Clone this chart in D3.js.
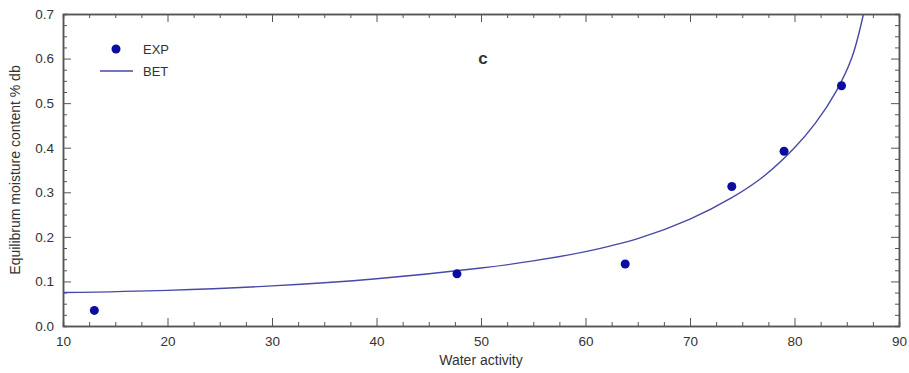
<!DOCTYPE html>
<meta charset="utf-8">
<head>
<style>
  body { margin: 0; background: #fff; }
  text { font-family: "Liberation Sans", Arial, sans-serif; }
</style>
</head>
<script src="https://d3js.org/d3.v7.min.js"></script>
<div id="chart"></div>
<script>

// measured points (EXP)
var expX = [13.0, 47.7, 63.8, 74.0, 79.0, 84.5];
var expY = [0.035, 0.117, 0.139, 0.313, 0.392, 0.539];

// BET fitted curve
var betX = [10, 20, 30, 40, 50, 55, 60, 65, 70, 74, 77, 80, 82, 84, 85.5, 86.6];
var betY = [0.075, 0.080, 0.090, 0.106, 0.130, 0.146, 0.167, 0.196, 0.240, 0.288, 0.335, 0.400, 0.455, 0.527, 0.603, 0.70];

var xTicks = [10, 20, 30, 40, 50, 60, 70, 80, 90];
var yTicks = [0.0, 0.1, 0.2, 0.3, 0.4, 0.5, 0.6, 0.7];

var W = 909, H = 373;
var margin = {top: 14, right: 10, bottom: 47, left: 63};
var width = W - margin.left - margin.right,
    height = H - margin.top - margin.bottom;

var svg = d3.select("#chart").append("svg")
    .attr("width", W).attr("height", H);
var g = svg.append("g")
    .attr("transform", "translate(" + margin.left + "," + margin.top + ")");

var x = d3.scaleLinear().domain([10, 90]).range([0, width]);
var y = d3.scaleLinear().domain([0, 0.7]).range([height, 0]);

var axisColor = "#555";

// minor ticks
var xMinor = d3.range(10, 90.01, 2.5).filter(function(v){ return v % 10 !== 0; });
var yMinor = d3.range(0, 0.7001, 0.025).filter(function(v){ return Math.abs(v*10 - Math.round(v*10)) > 1e-6; });

function drawAxes() {
  // bottom
  g.append("g").attr("transform", "translate(0," + height + ")")
    .call(d3.axisBottom(x).tickValues(xTicks).tickSizeInner(-8).tickSizeOuter(0).tickPadding(10).tickFormat(d3.format("d")))
    .call(styleAxis);
  g.append("g").attr("transform", "translate(0," + height + ")")
    .call(d3.axisBottom(x).tickValues(xMinor).tickSize(-4).tickFormat(""))
    .call(styleAxis);
  // top
  g.append("g")
    .call(d3.axisTop(x).tickValues(xTicks).tickSizeInner(-8).tickSizeOuter(0).tickFormat(""))
    .call(styleAxis);
  g.append("g")
    .call(d3.axisTop(x).tickValues(xMinor).tickSize(-4).tickFormat(""))
    .call(styleAxis);
  // left
  g.append("g")
    .call(d3.axisLeft(y).tickValues(yTicks).tickSizeInner(-8).tickSizeOuter(0).tickPadding(9).tickFormat(d3.format(".1f")))
    .call(styleAxis);
  g.append("g")
    .call(d3.axisLeft(y).tickValues(yMinor).tickSize(-4).tickFormat(""))
    .call(styleAxis);
  // right
  g.append("g").attr("transform", "translate(" + width + ",0)")
    .call(d3.axisRight(y).tickValues(yTicks).tickSizeInner(-8).tickSizeOuter(0).tickFormat(""))
    .call(styleAxis);
  g.append("g").attr("transform", "translate(" + width + ",0)")
    .call(d3.axisRight(y).tickValues(yMinor).tickSize(-4).tickFormat(""))
    .call(styleAxis);
}

function styleAxis(sel) {
  sel.selectAll(".domain").attr("stroke", axisColor).attr("stroke-width", 1.5);
  sel.selectAll(".tick line").attr("stroke", axisColor).attr("stroke-width", 1);
  sel.selectAll(".tick text").attr("fill", "#333").style("font-size", "13.5px")
    .style("font-family", "'Liberation Sans', Arial, sans-serif");
}

drawAxes();

// BET curve
var betData = betX.map(function(d, i) { return {x: d, y: betY[i]}; });
var line = d3.line()
    .x(function(d) { return x(d.x); })
    .y(function(d) { return y(d.y); })
    .curve(d3.curveCatmullRom.alpha(0.5));
g.append("path")
  .datum(betData)
  .attr("fill", "none")
  .attr("stroke", "#4848a8")
  .attr("stroke-width", 1.4)
  .attr("d", line);

// EXP points
var expData = expX.map(function(d, i) { return {x: d, y: expY[i]}; });
g.selectAll("circle.exp")
  .data(expData)
  .enter().append("circle")
  .attr("class", "exp")
  .attr("cx", function(d) { return x(d.x); })
  .attr("cy", function(d) { return y(d.y); })
  .attr("r", 4.5)
  .attr("fill", "#0c0ca0");

// legend
var leg = svg.append("g");
leg.append("circle").attr("cx", 116).attr("cy", 49).attr("r", 4.5).attr("fill", "#0c0ca0");
leg.append("text").attr("x", 143).attr("y", 54).text("EXP")
  .style("font-size", "13px").attr("fill", "#333");
leg.append("line").attr("x1", 100).attr("x2", 133).attr("y1", 71).attr("y2", 71)
  .attr("stroke", "#4848a8").attr("stroke-width", 1.4);
leg.append("text").attr("x", 143).attr("y", 76).text("BET")
  .style("font-size", "13px").attr("fill", "#333");

// panel letter
svg.append("text").attr("x", 483).attr("y", 64).attr("text-anchor", "middle")
  .text("c").style("font-size", "17px").style("font-weight", "bold").attr("fill", "#333");

// axis titles
svg.append("text").attr("x", margin.left + width / 2).attr("y", 365)
  .attr("text-anchor", "middle").text("Water activity")
  .style("font-size", "14px").attr("fill", "#333");
svg.append("text")
  .attr("transform", "translate(20," + (margin.top + height / 2) + ") rotate(-90)")
  .attr("text-anchor", "middle").text("Equilibrum moisture content % db")
  .style("font-size", "14px").attr("fill", "#333");

</script>
